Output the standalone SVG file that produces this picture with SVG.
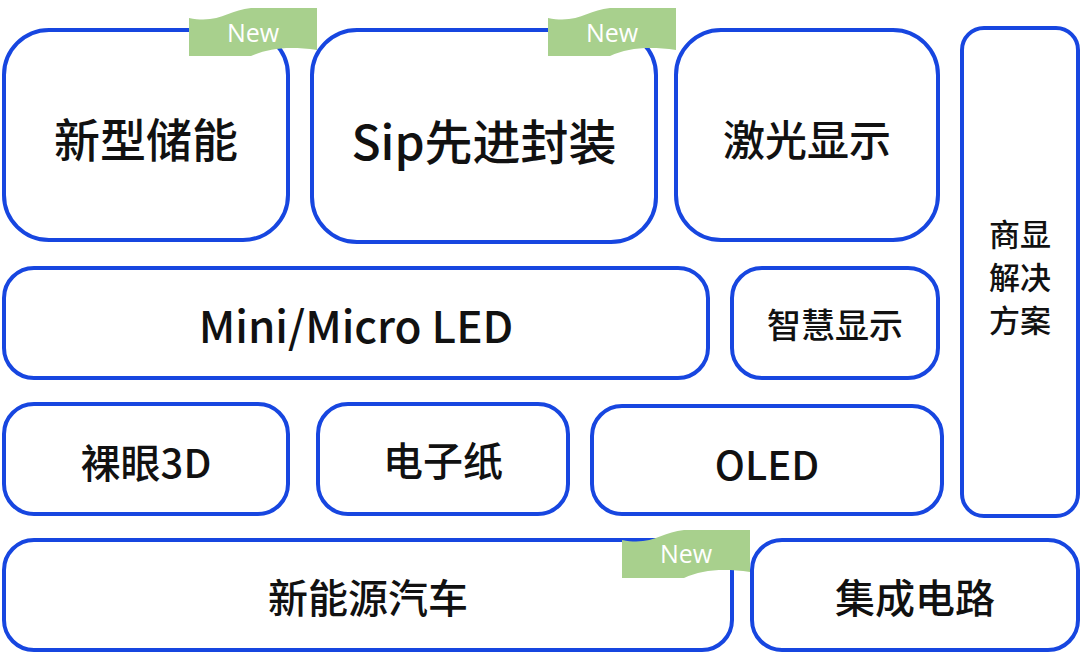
<svg xmlns="http://www.w3.org/2000/svg" width="1080" height="653" viewBox="0 0 1080 653">
<style>
.b{fill:#fff;stroke:#1746e0;stroke-width:4}
text{font-family:"Noto Sans CJK SC","Noto Sans",sans-serif;fill:#111;text-anchor:middle;dominant-baseline:central;font-weight:500}
.tg{fill:#a8d08d}
.tt{fill:#fff;font-size:25px;font-weight:400;font-family:"Open Sans","Noto Sans",sans-serif}
</style>
<defs>
<path id="flag" d="M0,10 C30,16 40,2 62,0 L128,0 L128,42 C100,38 80,40 62,48 L0,48 Z"/>
</defs>
<g id="n1"><rect class="b" x="4" y="30" width="284" height="210" rx="45"/><text x="146" y="137" font-size="46" font-weight="600">新型储能</text></g>
<g id="n2"><rect class="b" x="312" y="30" width="344" height="212" rx="45"/><text x="484" y="139" font-size="48" font-weight="600">Sip先进封装</text></g>
<g id="n3"><rect class="b" x="676" y="30" width="262" height="210" rx="45"/><text x="807" y="137" font-size="42">激光显示</text></g>
<g id="n4"><rect class="b" x="962" y="28" width="116" height="488" rx="22"/><text x="1020" y="232" font-size="31">商显</text><text x="1020" y="275" font-size="31">解决</text><text x="1020" y="318" font-size="31">方案</text></g>
<g id="n5"><rect class="b" x="4" y="268" width="704" height="110" rx="30"/><text x="356" y="324" font-size="44">Mini/Micro LED</text></g>
<g id="n6"><rect class="b" x="732" y="268" width="206" height="110" rx="30"/><text x="835" y="323" font-size="34">智慧显示</text></g>
<g id="n7"><rect class="b" x="4" y="404" width="284" height="110" rx="30"/><text x="146" y="461" font-size="40">裸眼3D</text></g>
<g id="n8"><rect class="b" x="318" y="404" width="250" height="110" rx="30"/><text x="443" y="459" font-size="40">电子纸</text></g>
<g id="n9"><rect class="b" x="592" y="406" width="350" height="108" rx="30"/><text x="767" y="463" font-size="40">OLED</text></g>
<g id="n10"><rect class="b" x="4" y="540" width="728" height="110" rx="30"/><text x="368" y="596" font-size="40">新能源汽车</text></g>
<g id="n11"><rect class="b" x="752" y="540" width="326" height="110" rx="30"/><text x="915" y="596" font-size="40">集成电路</text></g>
<g id="tags">
<use href="#flag" class="tg" transform="translate(189,8)"/><text class="tt" x="253" y="32">New</text>
<use href="#flag" class="tg" transform="translate(548,8)"/><text class="tt" x="612" y="32">New</text>
<use href="#flag" class="tg" transform="translate(622,530)"/><text class="tt" x="686" y="553">New</text>
</g>
<g id="connectors"/>
</svg>
